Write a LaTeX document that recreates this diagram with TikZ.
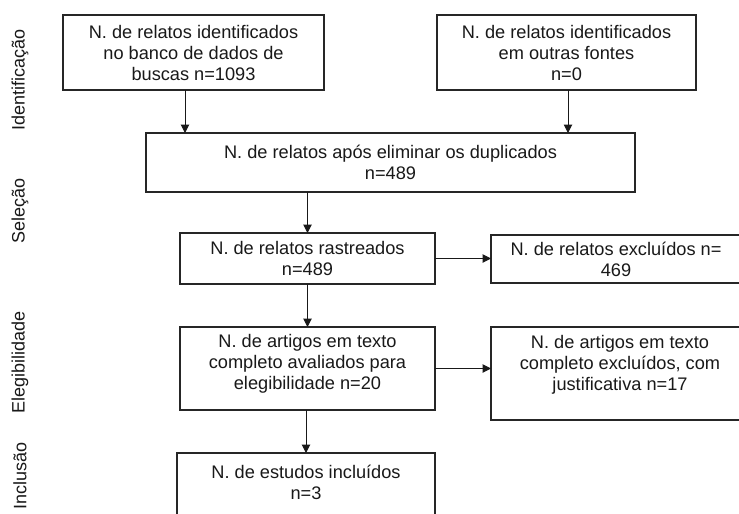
\documentclass[tikz,border=0pt]{standalone}
\usepackage{fontspec}
\setmainfont{Liberation Sans}
\usetikzlibrary{arrows.meta}
\tikzset{
  boxnode/.style={draw=black!85, line width=1.3pt, inner sep=0pt, outer sep=0pt, rectangle},
  txt/.style={align=center, inner sep=0pt, font=\fontsize{18.2}{21}\selectfont, text=black!90},
  side/.style={rotate=90, inner sep=0pt, font=\fontsize{18}{21}\selectfont, text=black!90},
  arr/.style={line width=1pt, black!90, -{Triangle[length=8.5pt,width=8.5pt]}}
}
\begin{document}
\begin{tikzpicture}[x=1pt,y=-1pt]
\useasboundingbox (0,0) rectangle (739,514);
\clip (0,0) rectangle (739,514);
\fill[white] (0,0) rectangle (739,514);
% boxes
\node[boxnode, minimum width=261, minimum height=75] (b1) at (193.5,52.5) {};
\node[boxnode, minimum width=259, minimum height=75] (b2) at (566.5,52.5) {};
\node[boxnode, minimum width=489, minimum height=59] (b3) at (390.5,162.5) {};
\node[boxnode, minimum width=255, minimum height=51] (b4) at (307.5,258.5) {};
\node[boxnode, minimum width=258, minimum height=48] (b5) at (620,259) {};
\node[boxnode, minimum width=255, minimum height=83] (b6) at (307.5,368.5) {};
\node[boxnode, minimum width=258, minimum height=93] (b7) at (620,373.5) {};
\node[boxnode, minimum width=258, minimum height=77] (b8) at (306,491.5) {};
% texts
\node[txt] (t1) at (193.5,52.5) {N. de relatos identificados\\no banco de dados de\\buscas n=1093};
\node[txt] (t2) at (566.5,52.5) {N. de relatos identificados\\em outras fontes\\n=0};
\node[txt] (t3) at (390.5,162.5) {N. de relatos após eliminar os duplicados\\n=489};
\node[txt] (t4) at (307.5,258.5) {N. de relatos rastreados\\n=489};
\node[txt] (t5) at (616,259) {N. de relatos excluídos n=\\469};
\node[txt] (t6) at (307.5,364) {N. de artigos em texto\\completo avaliados para\\elegibilidade n=20};
\node[txt] (t7) at (620,364.5) {N. de artigos em texto\\completo excluídos, com\\justificativa n=17};
\node[txt] (t8) at (306,482) {N. de estudos incluídos\\n=3};
% side labels
\node[side] (s1) at (20,80) {Identificação};
\node[side] (s2) at (20,211) {Seleção};
\node[side] (s3) at (20,362) {Elegibilidade};
\node[side] (s4) at (20,476) {Inclusão};
% connectors
\draw[arr] ([xshift=-8.5pt]b1.south) -- ([xshift=-8.5pt]b1.south |- b3.north);
\draw[arr] ([xshift=1.5pt]b2.south) -- ([xshift=1.5pt]b2.south |- b3.north);
\draw[arr] (b3.south -| b4.north) -- (b4.north);
\draw[arr] (b4.east) -- (b4.east -| b5.west);
\draw[arr] (b4.south) -- (b6.north);
\draw[arr] (b6.east) -- (b6.east -| b7.west);
\draw[arr] (b6.south -| b8.north) -- (b8.north);
\end{tikzpicture}
\end{document}
